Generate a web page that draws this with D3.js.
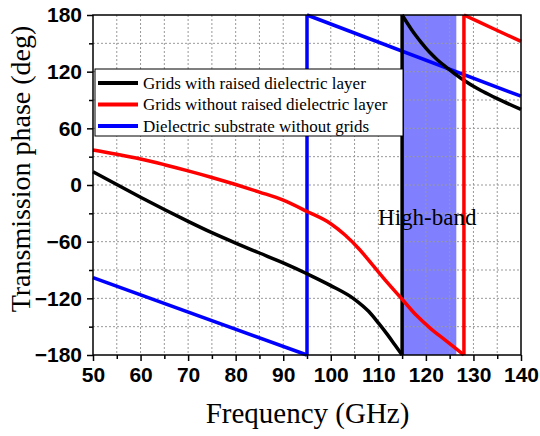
<!DOCTYPE html>
<html>
<head>
<meta charset="utf-8">
<script src="https://cdn.jsdelivr.net/npm/d3@7"></script>
<style>
  body { margin: 0; background: #fff; }
  svg { display: block; }
</style>
</head>
<body>
<div id="chart"></div>
<script>
// Series data (GHz, deg); each series is split where the phase wraps
const blackLow = [[50,14],[55,0.5],[60,-13],[65,-26],[70,-38.5],[75,-50.5],[80,-61.5],[85,-72],[90,-82.5],[95,-94],[100,-106.5],[105,-121],[108,-134],[110,-146],[112,-159],[113.5,-169.5],[115,-180]];
const blackHigh = [[115,180],[116,172],[117,164.5],[118,157.5],[119,151],[120,145],[121,139.5],[122,134.5],[123,130],[124,125.8],[125,121.8],[126,118],[127,114.3],[128,111],[130,104.5],[132,99],[135,91.5],[140,80]];
const redLow = [[50,37],[55,32.5],[60,27.5],[65,21.5],[70,15],[75,8],[80,0.5],[85,-7.5],[90,-16],[95,-28],[100,-41],[103,-53],[106,-68],[109,-86],[112,-104],[115,-121],[118,-138],[121,-152],[124,-164],[126,-172],[128,-180]];
const redHigh = [[128,180],[134,166],[140,152]];
const blueLow = [[50,-98],[95,-180]];
const blueHigh = [[95,180],[140,94]];

const seriesNames = ["Grids with raised dielectric layer", "Grids without raised dielectric layer", "Dielectric substrate without grids"];
const seriesColors = ["#000000", "#ff0000", "#0000ff"];
const highBand = [115, 126.4];
const xTicks = [50, 60, 70, 80, 90, 100, 110, 120, 130, 140];
const yTicks = [-180, -120, -60, 0, 60, 120, 180];

const margin = { top: 15, right: 19, bottom: 81, left: 93 },
    width = 540 - margin.left - margin.right,
    height = 436 - margin.top - margin.bottom;

const svg = d3.select("#chart")
  .append("svg")
  .attr("width", 540)
  .attr("height", 436)
  .append("g")
  .attr("transform", `translate(${margin.left},${margin.top})`);

const x = d3.scaleLinear().domain([50, 140]).range([0, width]);
const y = d3.scaleLinear().domain([-180, 180]).range([height, 0]);

// high-band shading
svg.append("rect")
  .attr("x", x(highBand[0]))
  .attr("y", 0)
  .attr("width", x(highBand[1]) - x(highBand[0]))
  .attr("height", height)
  .attr("fill", "#8080ff");

// dotted grid
const gx = d3.range(55, 140, 5), gy = d3.range(-150, 180, 30);
svg.append("g").selectAll("line").data(gx).enter().append("line")
  .attr("x1", d => x(d)).attr("x2", d => x(d))
  .attr("y1", 0).attr("y2", height)
  .attr("stroke", "#999").attr("stroke-dasharray", "2,2");
svg.append("g").selectAll("line").data(gy).enter().append("line")
  .attr("x1", 0).attr("x2", width)
  .attr("y1", d => y(d)).attr("y2", d => y(d))
  .attr("stroke", "#999").attr("stroke-dasharray", "2,2");

// curves
const line = d3.line().x(d => x(d[0])).y(d => y(d[1])).curve(d3.curveMonotoneX);
function drawSeries(segs, color) {
  segs.forEach((seg, i) => {
    svg.append("path").datum(seg)
      .attr("d", line)
      .attr("fill", "none").attr("stroke", color)
      .attr("stroke-width", 3.5);
    if (i < segs.length - 1) {
      const a = seg[seg.length - 1], b = segs[i + 1][0];
      svg.append("line")
        .attr("x1", x(a[0])).attr("y1", y(a[1]))
        .attr("x2", x(b[0])).attr("y2", y(b[1]))
        .attr("stroke", color).attr("stroke-width", 3.5);
    }
  });
}
drawSeries([blueLow, blueHigh], seriesColors[2]);
drawSeries([blackLow, blackHigh], seriesColors[0]);
drawSeries([redLow, redHigh], seriesColors[1]);

// axes
const tickFont = g => g.selectAll("text")
  .style("font-family", "'Liberation Sans', Arial, sans-serif")
  .style("font-weight", "bold")
  .style("font-size", "21px")
  .attr("fill", "#000");

svg.append("g")
  .attr("transform", `translate(0,${height})`)
  .call(d3.axisBottom(x).tickValues(d3.range(55, 140, 10)).tickSize(4).tickFormat(""))
  .call(g => g.select(".domain").remove());
svg.append("g")
  .attr("transform", `translate(0,${height})`)
  .call(d3.axisBottom(x).tickValues(xTicks).tickSize(6).tickPadding(6))
  .call(g => g.select(".domain").remove())
  .call(tickFont);

svg.append("g")
  .call(d3.axisLeft(y).tickValues(d3.range(-150, 180, 60)).tickSize(4).tickFormat(""))
  .call(g => g.select(".domain").remove());
svg.append("g")
  .call(d3.axisLeft(y).tickValues(yTicks).tickSize(6).tickPadding(5))
  .call(g => g.select(".domain").remove())
  .call(tickFont);

svg.selectAll(".tick line").attr("stroke", "#000").attr("stroke-width", 1.5);

// frame
svg.append("rect")
  .attr("width", width).attr("height", height)
  .attr("fill", "none").attr("stroke", "#000").attr("stroke-width", 1.5);

// label inside band
svg.append("text")
  .attr("x", x(115) - 24)
  .attr("y", y(-42))
  .style("font-family", "'Liberation Serif', 'Times New Roman', serif")
  .style("font-size", "23px")
  .text("High-band");

// legend
const legend = svg.append("g").attr("transform", "translate(2,54)");
legend.append("rect")
  .attr("width", 308).attr("height", 67)
  .attr("fill", "#fff").attr("stroke", "#000").attr("stroke-width", 1);
seriesNames.forEach((name, i) => {
  const row = legend.append("g").attr("transform", `translate(0,${14 + i * 21.5})`);
  row.append("line")
    .attr("x1", 3).attr("x2", 43)
    .attr("stroke", seriesColors[i]).attr("stroke-width", 4);
  row.append("text")
    .attr("x", 48).attr("y", 5.5)
    .style("font-family", "'Liberation Serif', 'Times New Roman', serif")
    .style("font-size", "17px")
    .text(name);
});

// axis titles
svg.append("text")
  .attr("x", width / 2 + 0.5).attr("y", height + 68)
  .attr("text-anchor", "middle")
  .style("font-family", "'Liberation Serif', 'Times New Roman', serif")
  .style("font-size", "29px")
  .text("Frequency (GHz)");

svg.append("text")
  .attr("transform", `translate(${-63},${height / 2 - 16}) rotate(-90)`)
  .attr("text-anchor", "middle")
  .style("font-family", "'Liberation Serif', 'Times New Roman', serif")
  .style("font-size", "28px")
  .text("Transmission phase (deg)");
</script>
</body>
</html>
